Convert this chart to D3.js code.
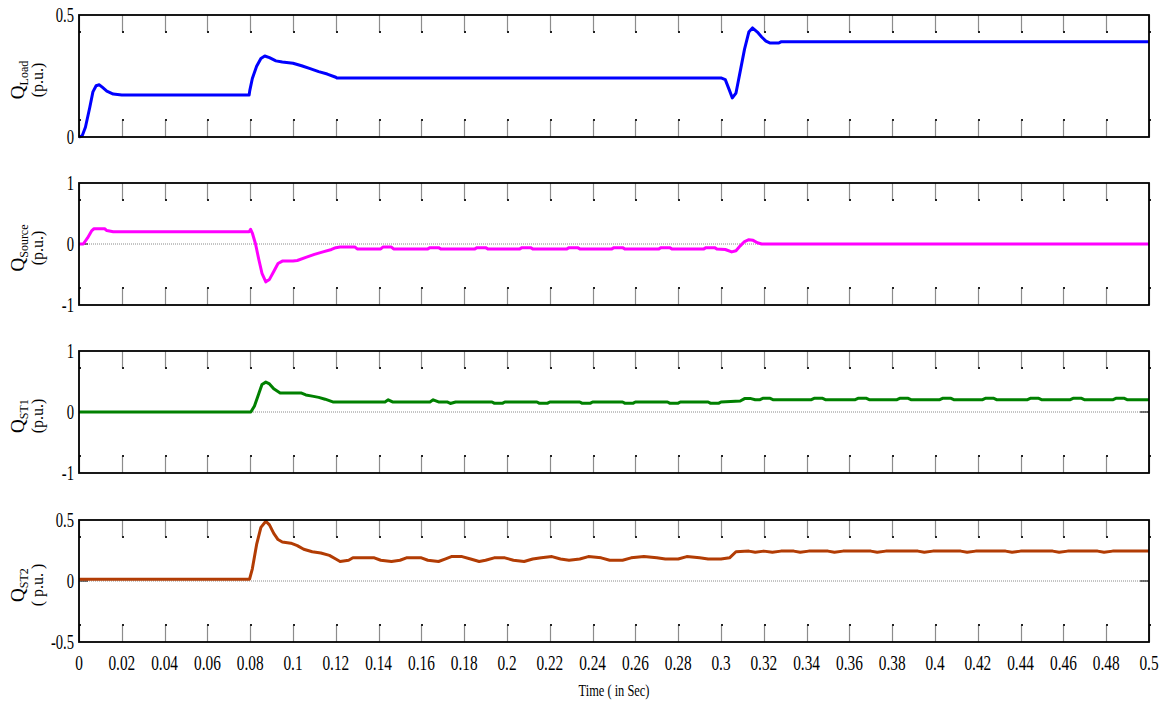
<!DOCTYPE html>
<html>
<head>
<meta charset="utf-8">
<script src="https://cdn.jsdelivr.net/npm/d3@7"></script>
<style>
  html, body { margin: 0; padding: 0; background: #fff; }
  svg { display: block; }
  text { font-family: "Liberation Serif", "DejaVu Serif", serif; fill: #000; }
</style>
</head>
<body>
<svg id="chart" width="1174" height="706"></svg>
<script>
// Reactive power responses, time in seconds, values in p.u.
const timeTicks = [0, 0.02, 0.04, 0.06, 0.08, 0.1, 0.12, 0.14, 0.16, 0.18, 0.2, 0.22, 0.24,
  0.26, 0.28, 0.3, 0.32, 0.34, 0.36, 0.38, 0.4, 0.42, 0.44, 0.46, 0.48, 0.5];
const timeTickLabels = ["0", "0.02", "0.04", "0.06", "0.08", "0.1", "0.12", "0.14", "0.16", "0.18",
  "0.2", "0.22", "0.24", "0.26", "0.28", "0.3", "0.32", "0.34", "0.36", "0.38", "0.4", "0.42",
  "0.44", "0.46", "0.48", "0.5"];

const qLoad = [
  [0, 0], [0.0015, 0.005], [0.003, 0.04], [0.005, 0.12], [0.0065, 0.185], [0.008, 0.21],
  [0.0095, 0.214], [0.011, 0.203], [0.013, 0.188], [0.016, 0.176], [0.02, 0.172],
  [0.0795, 0.172], [0.0798, 0.19], [0.081, 0.24], [0.083, 0.29], [0.085, 0.322],
  [0.0868, 0.332], [0.089, 0.325], [0.092, 0.312], [0.095, 0.307], [0.1, 0.302],
  [0.104, 0.292], [0.108, 0.28], [0.112, 0.268], [0.116, 0.258], [0.12, 0.245],
  [0.1205, 0.242], [0.3, 0.242], [0.302, 0.235], [0.304, 0.19], [0.3053, 0.16],
  [0.307, 0.18], [0.309, 0.27], [0.311, 0.36], [0.313, 0.43], [0.3147, 0.447],
  [0.317, 0.43], [0.319, 0.41], [0.321, 0.393], [0.323, 0.385], [0.327, 0.385],
  [0.328, 0.39], [0.5, 0.39]
];

const qSource = [
  [0, 0], [0.002, 0.0], [0.004, 0.1], [0.006, 0.22], [0.007, 0.25], [0.012, 0.25],
  [0.013, 0.22], [0.016, 0.2], [0.0795, 0.2], [0.0802, 0.24], [0.081, 0.18], [0.0825, 0.0],
  [0.084, -0.25], [0.0855, -0.48], [0.0873, -0.62], [0.089, -0.58], [0.091, -0.45],
  [0.093, -0.32], [0.095, -0.28], [0.1, -0.28], [0.102, -0.27], [0.106, -0.22],
  [0.11, -0.17], [0.114, -0.13], [0.118, -0.09], [0.12, -0.06], [0.122, -0.05],
  [0.129, -0.05], [0.13, -0.08], [0.141, -0.08], [0.142, -0.05], [0.146, -0.05],
  [0.147, -0.08], [0.163, -0.08], [0.164, -0.06], [0.168, -0.06], [0.169, -0.08],
  [0.185, -0.08], [0.186, -0.06], [0.19, -0.06], [0.191, -0.08], [0.206, -0.08],
  [0.207, -0.06], [0.211, -0.06], [0.212, -0.08], [0.228, -0.08], [0.229, -0.06],
  [0.233, -0.06], [0.234, -0.08], [0.249, -0.08], [0.25, -0.06], [0.254, -0.06],
  [0.255, -0.08], [0.271, -0.08], [0.272, -0.06], [0.276, -0.06], [0.277, -0.08],
  [0.292, -0.08], [0.293, -0.06], [0.297, -0.06], [0.298, -0.08], [0.302, -0.09],
  [0.305, -0.13], [0.307, -0.11], [0.309, -0.03], [0.311, 0.04], [0.313, 0.07],
  [0.315, 0.06], [0.317, 0.02], [0.319, 0], [0.5, 0]
];

const qST1 = [
  [0, 0], [0.0803, 0], [0.082, 0.1], [0.084, 0.3], [0.0855, 0.45], [0.0873, 0.49],
  [0.089, 0.46], [0.091, 0.38], [0.094, 0.31], [0.104, 0.31], [0.106, 0.28], [0.109, 0.26],
  [0.112, 0.24], [0.115, 0.21], [0.1186, 0.165], [0.143, 0.165], [0.1445, 0.2],
  [0.1465, 0.165], [0.164, 0.165], [0.1655, 0.2], [0.168, 0.165], [0.172, 0.165],
  [0.1735, 0.14], [0.176, 0.165], [0.193, 0.165], [0.194, 0.145], [0.198, 0.145],
  [0.199, 0.165], [0.214, 0.165], [0.215, 0.145], [0.219, 0.145], [0.22, 0.165],
  [0.234, 0.165], [0.235, 0.145], [0.239, 0.145], [0.24, 0.165], [0.254, 0.165],
  [0.255, 0.145], [0.259, 0.145], [0.26, 0.165], [0.275, 0.165], [0.276, 0.145],
  [0.28, 0.145], [0.281, 0.165], [0.294, 0.165], [0.295, 0.145], [0.299, 0.145],
  [0.3, 0.165], [0.309, 0.18], [0.311, 0.22], [0.314, 0.22], [0.316, 0.2], [0.318, 0.2],
  [0.3195, 0.225], [0.323, 0.225], [0.3245, 0.2], [0.342, 0.2], [0.3435, 0.225],
  [0.3475, 0.225], [0.349, 0.2], [0.3625, 0.2], [0.364, 0.225], [0.368, 0.225],
  [0.3695, 0.2], [0.382, 0.2], [0.3835, 0.225], [0.3875, 0.225], [0.389, 0.2],
  [0.402, 0.2], [0.4035, 0.225], [0.4075, 0.225], [0.409, 0.2], [0.422, 0.2],
  [0.4235, 0.225], [0.4275, 0.225], [0.429, 0.2], [0.443, 0.2], [0.4445, 0.225],
  [0.4485, 0.225], [0.45, 0.2], [0.463, 0.2], [0.4645, 0.225], [0.4685, 0.225],
  [0.47, 0.2], [0.483, 0.2], [0.4845, 0.225], [0.4885, 0.225], [0.49, 0.2], [0.5, 0.2]
];

const qST2 = [
  [0, 0.015], [0.0797, 0.015], [0.081, 0.1], [0.083, 0.3], [0.085, 0.44], [0.0873, 0.49],
  [0.089, 0.46], [0.091, 0.39], [0.093, 0.34], [0.095, 0.32], [0.099, 0.31], [0.102, 0.29],
  [0.105, 0.26], [0.109, 0.24], [0.113, 0.23], [0.117, 0.21], [0.12, 0.18], [0.122, 0.16],
  [0.126, 0.17], [0.128, 0.19], [0.138, 0.19], [0.141, 0.17], [0.146, 0.16], [0.15, 0.17],
  [0.153, 0.19], [0.16, 0.19], [0.163, 0.17], [0.168, 0.16], [0.171, 0.18], [0.174, 0.2],
  [0.179, 0.2], [0.183, 0.18], [0.187, 0.16], [0.19, 0.17], [0.194, 0.19], [0.199, 0.19],
  [0.203, 0.17], [0.208, 0.16], [0.212, 0.18], [0.216, 0.19], [0.221, 0.2], [0.225, 0.18],
  [0.229, 0.17], [0.234, 0.18], [0.238, 0.2], [0.244, 0.19], [0.248, 0.17], [0.254, 0.17],
  [0.258, 0.19], [0.264, 0.2], [0.27, 0.19], [0.274, 0.18], [0.28, 0.18], [0.284, 0.2],
  [0.29, 0.19], [0.294, 0.18], [0.3, 0.18], [0.304, 0.19], [0.307, 0.24], [0.313, 0.245],
  [0.316, 0.235], [0.32, 0.245], [0.324, 0.235], [0.328, 0.245], [0.334, 0.245],
  [0.337, 0.235], [0.341, 0.245], [0.35, 0.245], [0.353, 0.235], [0.357, 0.245],
  [0.37, 0.245], [0.373, 0.235], [0.377, 0.245], [0.392, 0.245], [0.395, 0.235],
  [0.399, 0.245], [0.412, 0.245], [0.415, 0.235], [0.419, 0.245], [0.433, 0.245],
  [0.436, 0.235], [0.44, 0.245], [0.455, 0.245], [0.458, 0.235], [0.462, 0.245],
  [0.476, 0.245], [0.479, 0.235], [0.483, 0.245], [0.5, 0.245]
];

const yDomains = [[0, 0.5], [-1, 1], [-1, 1], [-0.5, 0.5]];
const yTicks = [[0, 0.5], [-1, 0, 1], [-1, 0, 1], [-0.5, 0, 0.5]];
const yTickLabels = [["0", "0.5"], ["-1", "0", "1"], ["-1", "0", "1"], ["-0.5", "0", "0.5"]];
const yLabelMain = ["Q", "Q", "Q", "Q"];
const yLabelSub = ["Load", "Source", "ST1", "ST2"];
const yLabelUnit = ["(p.u.)", "(p.u.)", "(p.u.)", "( p.u. )"];
const xAxisTitle = "Time ( in Sec)";

const seriesList = [qLoad, qSource, qST1, qST2];
const seriesColors = ["#0000ff", "#ff00ff", "#008000", "#b23c04"];

// ---- layout ----
const svg = d3.select("#chart");
const left = 79, right = 1149;
const panelTops = [15, 183, 351, 520];
const panelH = 122;
const squeeze = 0.73; // narrow glyph width of the serif labels

const x = d3.scaleLinear().domain([0, 0.5]).range([left, right]);

function narrowText(g, px, py, str, size, anchor) {
  return g.append("text")
    .attr("transform", `translate(${px},${py}) scale(${squeeze},1)`)
    .attr("text-anchor", anchor)
    .attr("font-size", size)
    .text(str);
}

seriesList.forEach((data, i) => {
  const top = panelTops[i], bottom = top + panelH;
  const y = d3.scaleLinear().domain(yDomains[i]).range([bottom, top]);
  const g = svg.append("g");

  // zero reference line
  if (yDomains[i][0] < 0) {
    g.append("line")
      .attr("x1", left).attr("x2", right)
      .attr("y1", y(0)).attr("y2", y(0))
      .attr("stroke", "#8a8a8a").attr("stroke-width", 1)
      .attr("stroke-dasharray", "1,1");
  }

  // inward time ticks along top and bottom edges
  const tl = 17;
  timeTicks.forEach(t => {
    const px = Math.round(x(t)) + 0.5;
    g.append("line").attr("x1", px).attr("x2", px)
      .attr("y1", top).attr("y2", top + tl)
      .attr("stroke", "#8c8c8c").attr("stroke-width", 1.2);
    g.append("rect").attr("x", px - 0.5).attr("y", top + tl - 1)
      .attr("width", 2).attr("height", 2).attr("fill", "#222");
    g.append("line").attr("x1", px).attr("x2", px)
      .attr("y1", bottom).attr("y2", bottom - tl)
      .attr("stroke", "#8c8c8c").attr("stroke-width", 1.2);
    g.append("rect").attr("x", px - 0.5).attr("y", bottom - tl - 1)
      .attr("width", 2).attr("height", 2).attr("fill", "#222");
  });

  // inward value ticks on left and right edges (interior values only)
  yTicks[i].forEach(v => {
    const py = y(v);
    if (py <= top + 1 || py >= bottom - 1) return;
    g.append("line").attr("x1", left).attr("x2", left + 9)
      .attr("y1", py).attr("y2", py).attr("stroke", "#222").attr("stroke-width", 1.2);
    g.append("line").attr("x1", right - 9).attr("x2", right)
      .attr("y1", py).attr("y2", py).attr("stroke", "#222").attr("stroke-width", 1.2);
  });

  // data trace
  const line = d3.line().x(d => x(d[0])).y(d => y(d[1]));
  g.append("path").datum(data)
    .attr("d", line)
    .attr("fill", "none")
    .attr("stroke", seriesColors[i])
    .attr("stroke-width", 3)
    .attr("stroke-linejoin", "round");

  // panel frame
  g.append("rect")
    .attr("x", left).attr("y", top)
    .attr("width", right - left).attr("height", panelH)
    .attr("fill", "none").attr("stroke", "#000").attr("stroke-width", 1.8);

  // value tick labels
  yTicks[i].forEach((v, k) => {
    narrowText(g, 74, y(v) + 7, yTickLabels[i][k], 20, "end");
  });

  // rotated quantity label
  const cy = (top + bottom) / 2 + 4;
  const lab = g.append("g")
    .attr("transform", `translate(24,${cy}) rotate(-90)`);
  const t1 = lab.append("text").attr("text-anchor", "middle").attr("x", 0).attr("y", 0);
  t1.append("tspan").attr("font-size", 19).text(yLabelMain[i]);
  t1.append("tspan").attr("font-size", 12).attr("dy", 4).text(yLabelSub[i]);
  lab.append("text").attr("text-anchor", "middle")
    .attr("x", 0).attr("y", 19).attr("font-size", 16).text(yLabelUnit[i]);
});

// time axis labels under the last panel
const axisG = svg.append("g");
timeTicks.forEach((t, k) => {
  narrowText(axisG, x(t), 670, timeTickLabels[k], 21, "middle");
});
narrowText(axisG, (left + right) / 2, 696, xAxisTitle, 17, "middle");
</script>
</body>
</html>
